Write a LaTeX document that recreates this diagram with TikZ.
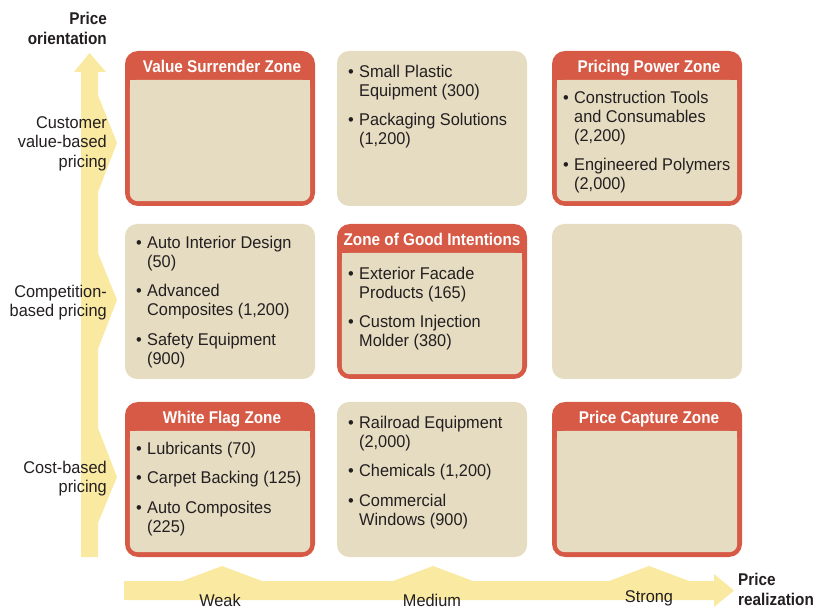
\documentclass[tikz,border=0pt]{standalone}
\usepackage{fontspec}
\setmainfont{Liberation Sans}[FakeStretch=0.96]
\newfontfamily\hdfont{Liberation Sans}[FakeStretch=0.9]
\usetikzlibrary{calc}
\definecolor{zred}{HTML}{D65A46}
\definecolor{zbeige}{HTML}{E6DCC2}
\definecolor{zyellow}{HTML}{FAE9A0}
\definecolor{ztext}{HTML}{231F20}
\newcommand{\zstrut}{\rule{0pt}{14pt}}
\newcommand{\zbul}{\makebox[11pt][l]{\textbullet}}
\newcommand{\zind}{\hspace*{11pt}}
\begin{document}
\begin{tikzpicture}[x=1pt,y=-1pt,
  plainbox/.style={fill=zbeige, rounded corners=12pt, minimum width=190pt, minimum height=155pt, inner sep=0pt, draw=none},
  redbox/.style={fill=zred, rounded corners=13pt, minimum width=190pt, minimum height=155pt, inner sep=0pt, draw=none},
  hdtext/.style={font=\hdfont\bfseries\fontsize{17}{19}\selectfont, text=white, anchor=base, inner sep=0pt},
  body/.style={font=\fontsize{17}{19}\selectfont, text=ztext, align=left, anchor=north west, inner sep=0pt},
  axlabel/.style={font=\fontsize{17}{19.5}\selectfont, text=ztext, inner sep=0pt},
  axtitle/.style={font=\hdfont\bfseries\fontsize{17}{20}\selectfont, text=ztext, inner sep=0pt},
]
\useasboundingbox (0,0) rectangle (817,609);

% ---- axes ----
\fill[zyellow] (81,557) -- (81,72) -- (74,72) -- (89.5,53) -- (106,72) -- (98,72)
  -- (98,95) -- (117,143) -- (98,192)
  -- (98,253) -- (117,300) -- (98,349)
  -- (98,428) -- (117,477) -- (98,523)
  -- (98,557) -- cycle;
\fill[zyellow] (124,581) -- (182,581) -- (222,566) -- (262,581)
  -- (393,581) -- (433,566) -- (473,581)
  -- (609,581) -- (649,566) -- (689,581)
  -- (714,581) -- (714,574) -- (734,590.5) -- (714,607) -- (714,600)
  -- (124,600) -- cycle;

% ---- boxes ----
\newcommand{\zredinner}[1]{%
  \fill[zbeige, rounded corners=8pt] ($(#1.north west)+(5,29)$) rectangle ($(#1.south east)+(-5,-5)$);
  \fill[zbeige] ($(#1.north west)+(5,29)$) rectangle ($(#1.north east)+(-5,45)$);
}
\node[redbox]   (b11) at (220,128.5) {};
\node[plainbox] (b12) at (432,128.5) {};
\node[redbox]   (b13) at (647,128.5) {};
\node[plainbox] (b21) at (220,301.5) {};
\node[redbox]   (b22) at (432,301.5) {};
\node[plainbox] (b23) at (647,301.5) {};
\node[redbox]   (b31) at (220,479.5) {};
\node[plainbox] (b32) at (432,479.5) {};
\node[redbox]   (b33) at (647,479.5) {};
\zredinner{b11}
\zredinner{b13}
\zredinner{b22}
\zredinner{b31}
\zredinner{b33}

% ---- headers ----
\node[hdtext] (h11) at (222,73) {Value Surrender Zone};
\node[hdtext] (h13) at (649,73) {Pricing Power Zone};
\node[hdtext] (h22) at (432,246) {Zone of Good Intentions};
\node[hdtext] (h31) at (222,424) {White Flag Zone};
\node[hdtext] (h33) at (649,424) {Price Capture Zone};

% ---- box texts ----
\node[body] (t12) at (348,63) {\zstrut\zbul Small Plastic\\\zind Equipment (300)\\[10.5pt]\zbul Packaging Solutions\\\zind (1,200)};
\node[body] (t13) at (563,89) {\zstrut\zbul Construction Tools\\\zind and Consumables\\\zind (2,200)\\[10.5pt]\zbul Engineered Polymers\\\zind (2,000)};
\node[body] (t21) at (136,234) {\zstrut\zbul Auto Interior Design\\\zind (50)\\[10.5pt]\zbul Advanced\\\zind Composites (1,200)\\[10.5pt]\zbul Safety Equipment\\\zind (900)};
\node[body] (t22) at (348,265) {\zstrut\zbul Exterior Facade\\\zind Products (165)\\[10.5pt]\zbul Custom Injection\\\zind Molder (380)};
\node[body] (t31) at (136,440) {\zstrut\zbul Lubricants (70)\\[10.5pt]\zbul Carpet Backing (125)\\[10.5pt]\zbul Auto Composites\\\zind (225)};
\node[body] (t32) at (348,414) {\zstrut\zbul Railroad Equipment\\\zind (2,000)\\[10.5pt]\zbul Chemicals (1,200)\\[10.5pt]\zbul Commercial\\\zind Windows (900)};

% ---- axis labels ----
\node[axtitle, align=right, anchor=north east] (ytitle) at (107,10) {\zstrut Price\\orientation};
\node[axlabel, align=right, anchor=north east] (ycust) at (107,114) {\zstrut Customer\\value-based\\pricing};
\node[axlabel, align=right, anchor=north east] (ycomp) at (107,283) {\zstrut Competition-\\based pricing};
\node[axlabel, align=right, anchor=north east] (ycost) at (107,459) {\zstrut Cost-based\\pricing};

\node[axtitle, align=left, anchor=north west] (xtitle) at (738,571) {\zstrut Price\\realization};
\node[axlabel, anchor=base] (xweak) at (220,606) {Weak};
\node[axlabel, anchor=base] (xmed) at (432,606) {Medium};
\node[axlabel, anchor=base] (xstrong) at (649,602) {Strong};
\end{tikzpicture}
\end{document}
